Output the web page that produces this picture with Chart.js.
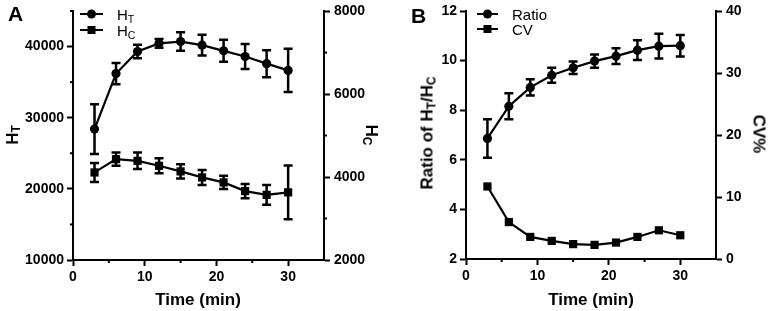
<!DOCTYPE html>
<html>
<head>
<meta charset="utf-8">
<script src="https://cdn.jsdelivr.net/npm/chart.js@4.4.0/dist/chart.umd.min.js"></script>
<style>
  html, body { margin: 0; padding: 0; background: #fff; }
  body { width: 768px; height: 311px; position: relative; overflow: hidden;
         font-family: 'Liberation Sans', Arial, sans-serif; color: #000; }
  canvas { position: absolute; top: 0; }
  .txt { position: absolute; white-space: nowrap; line-height: 1; }
  .title { font-size: 17px; font-weight: bold; transform: translate(-50%, -50%); }
  .rotL { transform: translate(-50%, -50%) rotate(-90deg); }
  .rotR { transform: translate(-50%, -50%) rotate(90deg); }
  .letter { font-size: 21px; font-weight: bold; }
  .leg { position: absolute; display: flex; align-items: center; height: 16px; font-size: 15px; }
  .leg svg { margin-right: 14px; }
  sub { font-size: 70%; vertical-align: -0.25em; line-height: 0; }
</style>
</head>
<body>
<canvas id="chartA" width="384" height="311" style="left:0"></canvas>
<canvas id="chartB" width="384" height="311" style="left:384px"></canvas>

<div class="txt letter" style="left:8px; top:3px">A</div>
<div class="txt letter" style="left:411px; top:5px">B</div>

<!-- legenda A -->
<div class="leg" style="left:80px; top:6px">
  <svg width="23" height="10"><line x1="0" y1="5" x2="23" y2="5" stroke="#000" stroke-width="2"/><circle cx="11.5" cy="5" r="4.5" fill="#000"/></svg>
  <span>H<sub>T</sub></span>
</div>
<div class="leg" style="left:80px; top:22px">
  <svg width="23" height="10"><line x1="0" y1="5" x2="23" y2="5" stroke="#000" stroke-width="2"/><rect x="7.5" y="1" width="8" height="8" fill="#000"/></svg>
  <span>H<sub>C</sub></span>
</div>

<!-- legenda B -->
<div class="leg" style="left:477px; top:6px">
  <svg width="21" height="10"><line x1="0" y1="5" x2="21" y2="5" stroke="#000" stroke-width="2"/><circle cx="10.5" cy="5" r="4.5" fill="#000"/></svg>
  <span>Ratio</span>
</div>
<div class="leg" style="left:477px; top:21px">
  <svg width="21" height="10"><line x1="0" y1="5" x2="21" y2="5" stroke="#000" stroke-width="2"/><rect x="6.5" y="1" width="8" height="8" fill="#000"/></svg>
  <span>CV</span>
</div>

<!-- títulos dos eixos -->
<div class="txt title rotL" style="left:12px; top:135px">H<sub>T</sub></div>
<div class="txt title rotR" style="left:371px; top:135px">H<sub>C</sub></div>
<div class="txt title" style="left:198px; top:299px">Time (min)</div>
<div class="txt title rotL" style="left:427px; top:133px">Ratio of H<sub>T</sub>/H<sub>C</sub></div>
<div class="txt title rotR" style="left:759px; top:134px">CV%</div>
<div class="txt title" style="left:591px; top:299px">Time (min)</div>

<script>
// dados
const time = [3, 6, 9, 12, 15, 18, 21, 24, 27, 30];

const htMean = [28400, 36200, 39300, 40450, 40700, 40200, 39400, 38600, 37600, 36650];
const htSd   = [3500, 1500, 950, 600, 1300, 1450, 1550, 1750, 1900, 3050];
const hcMean = [4110, 4430, 4390, 4270, 4135, 3990, 3870, 3660, 3570, 3630];
const hcSd   = [230, 160, 200, 180, 170, 180, 160, 170, 240, 650];

const ratioMean = [6.86, 8.16, 8.92, 9.41, 9.71, 9.98, 10.18, 10.42, 10.58, 10.6];
const ratioSd   = [0.78, 0.52, 0.33, 0.3, 0.25, 0.27, 0.32, 0.4, 0.5, 0.43];
const cvValues  = [11.7, 5.96, 3.56, 2.92, 2.4, 2.28, 2.65, 3.56, 4.63, 3.83];

// marcas dos eixos
const xTicks = [0, 10, 20, 30];
const xMinor = [5, 15, 25];
const htTicks = [10000, 20000, 30000, 40000];
const htMinor = [15000, 25000, 35000, 45000];
const hcTicks = [2000, 4000, 6000, 8000];
const hcMinor = [3000, 5000, 7000];
const ratioTicks = [2, 4, 6, 8, 10, 12];
const cvTicks = [0, 10, 20, 30, 40];

const tickFont = { family: "'Liberation Sans', Arial, sans-serif", size: 14, weight: 'bold', lineHeight: 1 };

// barras de erro desenhadas pelas escalas do próprio gráfico
const errorBars = {
    id: 'errorBars',
    afterDatasetsDraw(chart) {
        const ctx = chart.ctx;
        chart.data.datasets.forEach((ds, i) => {
            if (!ds.errors) return;
            const meta = chart.getDatasetMeta(i);
            const yScale = chart.scales[ds.yAxisID];
            ctx.save();
            ctx.strokeStyle = '#000';
            ctx.lineWidth = 2.5;
            meta.data.forEach((pt, j) => {
                const v = ds.data[j].y, e = ds.errors[j];
                const top = yScale.getPixelForValue(v + e);
                const bot = yScale.getPixelForValue(v - e);
                ctx.beginPath();
                ctx.moveTo(pt.x, top); ctx.lineTo(pt.x, bot);
                ctx.moveTo(pt.x - 4.5, top); ctx.lineTo(pt.x + 4.5, top);
                ctx.moveTo(pt.x - 4.5, bot); ctx.lineTo(pt.x + 4.5, bot);
                ctx.stroke();
            });
            ctx.restore();
        });
    }
};

// marcas menores (curtas, sem rótulo)
function minorTicks(map) {
    return {
        id: 'minorTicks',
        afterDraw(chart) {
            const ctx = chart.ctx;
            ctx.save();
            ctx.strokeStyle = '#000';
            ctx.lineWidth = 2;
            Object.keys(map).forEach(id => {
                const s = chart.scales[id];
                map[id].forEach(v => {
                    const p = s.getPixelForValue(v);
                    ctx.beginPath();
                    if (s.position === 'bottom') { ctx.moveTo(p, s.top); ctx.lineTo(p, s.top + 3); }
                    else if (s.position === 'left') { ctx.moveTo(s.right, p); ctx.lineTo(s.right - 3, p); }
                    else { ctx.moveTo(s.left, p); ctx.lineTo(s.left + 3, p); }
                    ctx.stroke();
                });
            });
            ctx.restore();
        }
    };
}

function axis(position, min, max, ticks, size, pad) {
    const vertical = position !== 'bottom';
    return {
        type: 'linear',
        position: position,
        min: min,
        max: max,
        grid: { drawOnChartArea: false, tickLength: 6, tickWidth: 2, tickColor: '#000' },
        border: { display: true, color: '#000', width: 2 },
        ticks: { color: '#000', font: tickFont, padding: pad, maxRotation: 0, callback: v => String(v) },
        afterBuildTicks: s => { s.ticks = ticks.map(v => ({ value: v })); },
        afterFit: s => { if (vertical) s.width = size; else s.height = size; }
    };
}

function toPoints(ys) {
    return time.map((t, i) => ({ x: t, y: ys[i] }));
}

function series(label, ys, yAxisID, style, radius, errors) {
    return {
        label: label,
        data: toPoints(ys),
        yAxisID: yAxisID,
        errors: errors,
        borderColor: '#000',
        backgroundColor: '#000',
        borderWidth: 2.2,
        pointStyle: style,
        pointRadius: radius,
        pointHoverRadius: radius,
        pointBorderWidth: 0,
        tension: 0,
        clip: false
    };
}

const commonOptions = {
    responsive: false,
    animation: false,
    devicePixelRatio: 1,
    plugins: { legend: { display: false }, tooltip: { enabled: false } }
};

new Chart(document.getElementById('chartA'), {
    type: 'line',
    data: {
        datasets: [
            series('HT', htMean, 'yL', 'circle', 4.6, htSd),
            series('HC', hcMean, 'yR', 'rect', 5.8, hcSd)
        ]
    },
    options: Object.assign({}, commonOptions, {
        layout: { padding: { top: 9, left: 0, right: 0, bottom: 0 } },
        scales: {
            x: axis('bottom', 0, 35, xTicks, 51, 4),
            yL: axis('left', 10000, 45000, htTicks, 73, 3),
            yR: axis('right', 2000, 8000, hcTicks, 60, 4)
        }
    }),
    plugins: [errorBars, minorTicks({ x: xMinor, yL: htMinor, yR: hcMinor })]
});

new Chart(document.getElementById('chartB'), {
    type: 'line',
    data: {
        datasets: [
            series('Ratio', ratioMean, 'yL', 'circle', 4.6, ratioSd),
            series('CV', cvValues, 'yR', 'rect', 5.8, null)
        ]
    },
    options: Object.assign({}, commonOptions, {
        layout: { padding: { top: 7, left: 0, right: 0, bottom: 0 } },
        scales: {
            x: axis('bottom', 0, 35, xTicks, 52, 4),
            yL: axis('left', 2, 12, ratioTicks, 82, 3),
            yR: axis('right', 0, 40, cvTicks, 52, 4)
        }
    }),
    plugins: [errorBars, minorTicks({ x: xMinor })]
});
</script>
</body>
</html>
